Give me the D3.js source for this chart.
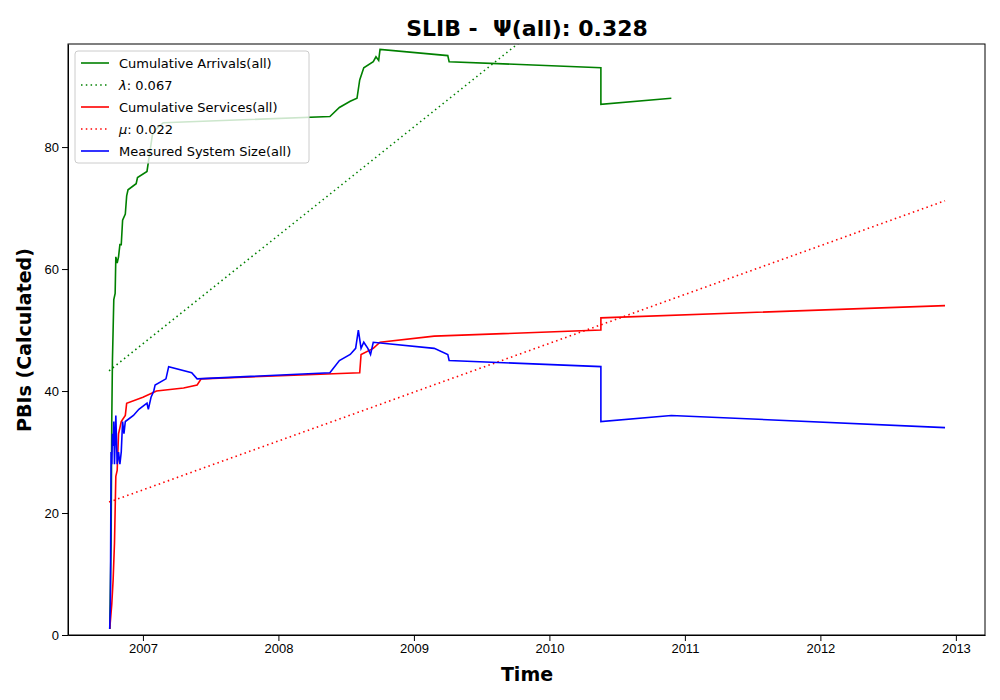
<!DOCTYPE html>
<html><head><meta charset="utf-8">
<script src="https://cdn.jsdelivr.net/npm/d3@7"></script>
<style>body{margin:0;background:#fff;font-family:"DejaVu Sans",sans-serif}</style>
</head><body><svg id="c" width="1000" height="700"></svg>
<script>
const arrivals = [[2006.755,1],[2006.765,15],[2006.77,35],[2006.775,45],[2006.78,50],[2006.785,55],[2006.795,56],[2006.80,62],[2006.81,61],[2006.82,62],[2006.83,64],[2006.84,64],[2006.85,68],[2006.87,69],[2006.88,72],[2006.89,73],[2006.95,74],[2006.96,75],[2007.03,76],[2007.05,79],[2007.07,82],[2007.1,83],[2007.15,84],[2008.38,85],[2008.45,86.5],[2008.53,87.5],[2008.58,88],[2008.6,91],[2008.63,93],[2008.7,94],[2008.72,94.8],[2008.74,94.2],[2008.75,96],[2009.25,95],[2009.26,94],[2010.38,93],[2010.38,87],[2010.9,88]];
const services = [[2006.755,1],[2006.77,5],[2006.78,9],[2006.79,15],[2006.80,26],[2006.81,27],[2006.82,33],[2006.84,35],[2006.87,36],[2006.88,38],[2007.0,39],[2007.1,40],[2007.3,40.5],[2007.4,41],[2007.43,42],[2008.6,43],[2008.61,46],[2008.7,47],[2008.75,48],[2009.15,49],[2010.38,50],[2010.38,52],[2012.92,54]];
const systemSize = [[2006.755,1],[2006.76,5],[2006.765,30],[2006.77,28],[2006.775,33],[2006.78,31],[2006.785,35],[2006.79,28],[2006.80,36],[2006.81,28],[2006.82,30],[2006.83,28],[2006.84,30],[2006.85,35],[2006.86,33],[2006.87,35],[2006.93,36],[2006.97,37],[2007.03,38],[2007.04,37],[2007.06,39],[2007.08,40],[2007.09,41],[2007.17,42],[2007.19,44],[2007.36,43],[2007.4,42],[2008.38,43],[2008.45,45],[2008.53,46],[2008.57,47],[2008.59,50],[2008.61,47],[2008.63,48],[2008.66,47],[2008.68,46],[2008.7,48],[2009.15,47],[2009.25,46],[2009.26,45],[2010.38,44],[2010.38,35],[2010.9,36],[2012.92,34]];
const lambdaLine = [[2006.75,43.3],[2012.92,153]];
const muLine = [[2006.75,21.8],[2012.92,71.2]];
const xTicks = [2007,2008,2009,2010,2011,2012,2013];
const yTicks = [0,20,40,60,80];

const svg = d3.select("#c");
const L=68,R=985,T=44,B=635;
const x = d3.scaleLinear().domain([2006.447,2013.215]).range([L,R]);
const y = d3.scaleLinear().domain([0,96.9]).range([B,T]);

svg.append("clipPath").attr("id","clip").append("rect").attr("x",L).attr("y",T).attr("width",R-L).attr("height",B-T);
const g = svg.append("g").attr("clip-path","url(#clip)");
const line = d3.line().x(d=>x(d[0])).y(d=>y(d[1]));
const series = [
  {data:arrivals,color:"green",dash:null,label:"Cumulative Arrivals(all)"},
  {data:lambdaLine,color:"green",dash:"1.5,3.3",label:"λ: 0.067",greek:"λ",rest:": 0.067"},
  {data:services,color:"red",dash:null,label:"Cumulative Services(all)"},
  {data:muLine,color:"red",dash:"1.5,3.3",label:"μ: 0.022",greek:"μ",rest:": 0.022"},
  {data:systemSize,color:"blue",dash:null,label:"Measured System Size(all)"}
];
series.forEach(s=>{
  g.append("path").attr("d",line(s.data)).attr("fill","none").attr("stroke",s.color)
   .attr("stroke-width",1.6).attr("stroke-dasharray",s.dash);
});

svg.append("g").attr("transform",`translate(0,${B})`)
  .call(d3.axisBottom(x).tickValues(xTicks).tickFormat(d3.format("d")).tickSizeOuter(0))
  .call(a=>a.selectAll("text").attr("font-size",13).attr("fill","#000"));
svg.append("g").attr("transform",`translate(${L},0)`)
  .call(d3.axisLeft(y).tickValues(yTicks).tickSizeOuter(0))
  .call(a=>a.selectAll("text").attr("font-size",13).attr("fill","#000"));
svg.append("rect").attr("x",L).attr("y",T).attr("width",R-L).attr("height",B-T)
  .attr("fill","none").attr("stroke","#000").attr("stroke-width",1);

svg.append("text").attr("x",527).attr("y",36).attr("text-anchor","middle").style("white-space","pre")
  .attr("font-size",22).attr("font-weight","bold").text("SLIB -  Ψ(all): 0.328");
svg.append("text").attr("x",527).attr("y",681).attr("text-anchor","middle")
  .attr("font-size",19).attr("font-weight","bold").text("Time");
svg.append("text").attr("transform","translate(31,340) rotate(-90)").attr("text-anchor","middle")
  .attr("font-size",19).attr("font-weight","bold").text("PBIs (Calculated)");

const lg = svg.append("g").attr("transform","translate(75,51)");
lg.append("rect").attr("width",234).attr("height",112).attr("rx",3).attr("fill","rgba(255,255,255,0.8)")
  .attr("stroke","#ccc");
series.forEach((s,i)=>{
  const yy = 12+i*22;
  lg.append("line").attr("x1",6).attr("x2",34).attr("y1",yy).attr("y2",yy)
    .attr("stroke",s.color).attr("stroke-width",1.6).attr("stroke-dasharray",s.dash);
  const t = lg.append("text").attr("x",44).attr("y",yy+4.5).attr("font-size",13);
  if(s.greek){ t.append("tspan").attr("font-style","italic").text(s.greek); t.append("tspan").text(s.rest); }
  else t.text(s.label);
});
</script></body></html>
